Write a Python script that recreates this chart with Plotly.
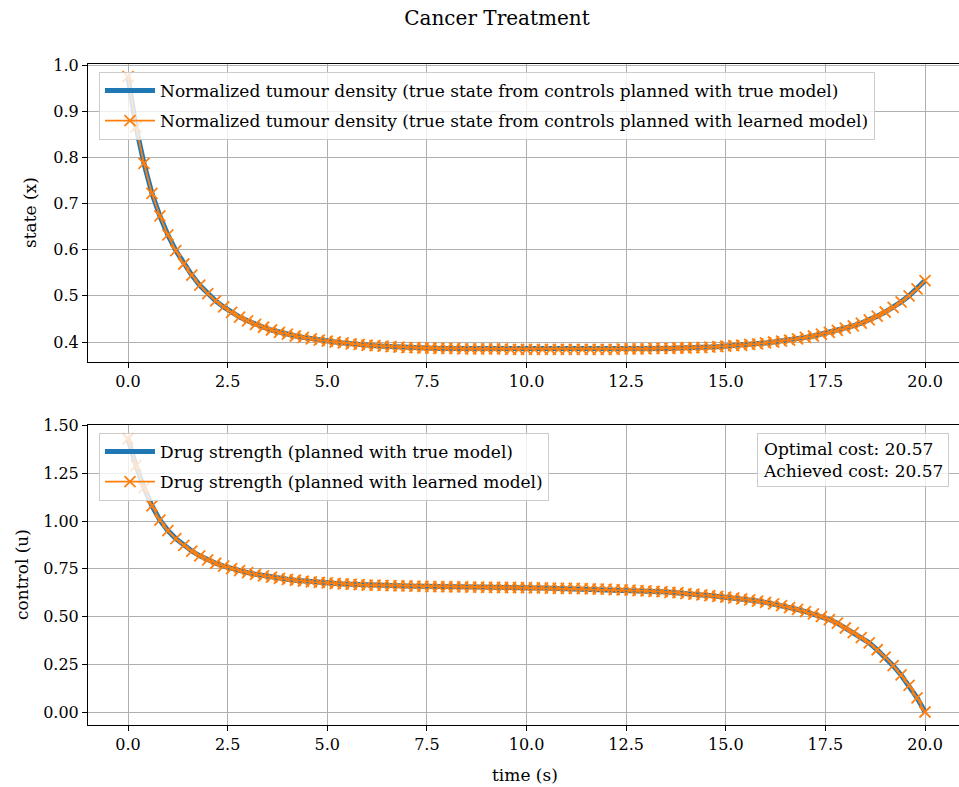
import plotly.graph_objects as go
from plotly.subplots import make_subplots

# time grid (s), sampled every 0.2 s
time_s = [round(i * 0.2, 1) for i in range(101)]

state_true = [
    0.975, 0.866, 0.787, 0.722, 0.673, 0.632, 0.598, 0.569, 0.545, 0.523,
    0.505, 0.489, 0.476, 0.464, 0.454, 0.446, 0.438, 0.432, 0.426, 0.421,
    0.417, 0.413, 0.410, 0.407, 0.404, 0.402, 0.400, 0.398, 0.396, 0.395,
    0.393, 0.392, 0.391, 0.390, 0.389, 0.388, 0.388, 0.387, 0.387, 0.386,
    0.386, 0.386, 0.385, 0.385, 0.385, 0.385, 0.385, 0.385, 0.384, 0.384,
    0.384, 0.384, 0.384, 0.384, 0.384, 0.384, 0.384, 0.384, 0.384, 0.384,
    0.384, 0.384, 0.385, 0.385, 0.385, 0.385, 0.386, 0.386, 0.386, 0.387,
    0.387, 0.388, 0.388, 0.389, 0.390, 0.391, 0.392, 0.393, 0.395, 0.396,
    0.398, 0.400, 0.402, 0.404, 0.407, 0.410, 0.413, 0.417, 0.421, 0.425,
    0.430, 0.435, 0.441, 0.448, 0.456, 0.465, 0.475, 0.487, 0.500, 0.515,
    0.533,
]
state_learned = [
    0.975, 0.866, 0.787, 0.722, 0.673, 0.632, 0.598, 0.569, 0.545, 0.523,
    0.505, 0.489, 0.476, 0.464, 0.454, 0.446, 0.438, 0.432, 0.426, 0.421,
    0.417, 0.413, 0.410, 0.407, 0.404, 0.402, 0.400, 0.398, 0.396, 0.395,
    0.393, 0.392, 0.391, 0.390, 0.389, 0.388, 0.388, 0.387, 0.387, 0.386,
    0.386, 0.386, 0.385, 0.385, 0.385, 0.385, 0.385, 0.385, 0.384, 0.384,
    0.384, 0.384, 0.384, 0.384, 0.384, 0.384, 0.384, 0.384, 0.384, 0.384,
    0.384, 0.384, 0.385, 0.385, 0.385, 0.385, 0.386, 0.386, 0.386, 0.387,
    0.387, 0.388, 0.388, 0.389, 0.390, 0.391, 0.392, 0.393, 0.395, 0.396,
    0.398, 0.400, 0.402, 0.404, 0.407, 0.410, 0.413, 0.417, 0.421, 0.425,
    0.430, 0.435, 0.441, 0.448, 0.456, 0.465, 0.475, 0.487, 0.500, 0.515,
    0.533,
]

control_true = [
    1.431, 1.290, 1.175, 1.080, 1.005, 0.950, 0.908, 0.873, 0.843, 0.818,
    0.797, 0.779, 0.764, 0.751, 0.740, 0.730, 0.721, 0.713, 0.706, 0.700,
    0.695, 0.690, 0.686, 0.682, 0.679, 0.676, 0.673, 0.671, 0.669, 0.667,
    0.665, 0.664, 0.663, 0.662, 0.661, 0.660, 0.659, 0.658, 0.657, 0.657,
    0.656, 0.655, 0.655, 0.654, 0.654, 0.653, 0.653, 0.652, 0.652, 0.651,
    0.651, 0.650, 0.650, 0.649, 0.648, 0.648, 0.647, 0.646, 0.645, 0.644,
    0.643, 0.641, 0.640, 0.638, 0.636, 0.634, 0.632, 0.630, 0.627, 0.625,
    0.620, 0.617, 0.613, 0.610, 0.606, 0.602, 0.598, 0.593, 0.587, 0.581,
    0.574, 0.566, 0.557, 0.547, 0.537, 0.526, 0.514, 0.500, 0.484, 0.465,
    0.440, 0.416, 0.390, 0.362, 0.326, 0.287, 0.243, 0.194, 0.139, 0.074,
    0.000,
]
control_learned = [
    1.431, 1.290, 1.175, 1.080, 1.005, 0.950, 0.908, 0.873, 0.843, 0.818,
    0.797, 0.779, 0.764, 0.751, 0.740, 0.730, 0.721, 0.713, 0.706, 0.700,
    0.695, 0.690, 0.686, 0.682, 0.679, 0.676, 0.673, 0.671, 0.669, 0.667,
    0.665, 0.664, 0.663, 0.662, 0.661, 0.660, 0.659, 0.658, 0.657, 0.657,
    0.656, 0.655, 0.655, 0.654, 0.654, 0.653, 0.653, 0.652, 0.652, 0.651,
    0.651, 0.650, 0.650, 0.649, 0.648, 0.648, 0.647, 0.646, 0.645, 0.644,
    0.643, 0.641, 0.640, 0.638, 0.636, 0.634, 0.632, 0.630, 0.627, 0.625,
    0.620, 0.617, 0.613, 0.610, 0.606, 0.602, 0.598, 0.593, 0.587, 0.581,
    0.574, 0.566, 0.557, 0.547, 0.537, 0.526, 0.514, 0.500, 0.484, 0.465,
    0.440, 0.416, 0.390, 0.362, 0.326, 0.287, 0.243, 0.194, 0.139, 0.074,
    0.000,
]

x_ticks = [0, 2.5, 5, 7.5, 10, 12.5, 15, 17.5, 20]
x_tick_text = ["0.0", "2.5", "5.0", "7.5", "10.0", "12.5", "15.0", "17.5", "20.0"]
state_ticks = [0.4, 0.5, 0.6, 0.7, 0.8, 0.9, 1.0]
state_tick_text = ["0.4", "0.5", "0.6", "0.7", "0.8", "0.9", "1.0"]
control_ticks = [0, 0.25, 0.5, 0.75, 1.0, 1.25, 1.5]
control_tick_text = ["0.00", "0.25", "0.50", "0.75", "1.00", "1.25", "1.50"]

optimal_cost = 20.57
achieved_cost = 20.57

BLUE = "#1f77b4"
ORANGE = "#ff7f0e"
FONT = "DejaVu Serif"
TXT = 17
TICK = 16

W, H = 959, 787
ML, MR, MT, MB = 88, 0, 64, 62
PW = W - ML - MR
PH = H - MT - MB

fig = make_subplots(rows=2, cols=1, shared_xaxes=False, vertical_spacing=0.0)

fig.add_trace(go.Scatter(
    x=time_s, y=state_true, mode="lines",
    line=dict(color=BLUE, width=5),
    name="Normalized tumour density (true state from controls planned with true model)",
    legend="legend", legendgroup="a"), row=1, col=1)
fig.add_trace(go.Scatter(
    x=time_s, y=state_learned, mode="lines+markers",
    line=dict(color=ORANGE, width=1.8),
    marker=dict(symbol="x-thin", size=11, line=dict(color=ORANGE, width=1.8)),
    name="Normalized tumour density (true state from controls planned with learned model)",
    legend="legend", legendgroup="b"), row=1, col=1)
fig.add_trace(go.Scatter(
    x=time_s, y=control_true, mode="lines",
    line=dict(color=BLUE, width=5),
    name="Drug strength (planned with true model)",
    legend="legend2", legendgroup="c"), row=2, col=1)
fig.add_trace(go.Scatter(
    x=time_s, y=control_learned, mode="lines+markers",
    line=dict(color=ORANGE, width=1.8),
    marker=dict(symbol="x-thin", size=11, line=dict(color=ORANGE, width=1.8)),
    name="Drug strength (planned with learned model)",
    legend="legend2", legendgroup="d"), row=2, col=1)

top_lo = (H - MB - 362) / PH
bot_hi = (H - MB - 425) / PH

xcommon = dict(
    range=[-1.004, 20.853], tickvals=x_ticks, ticktext=x_tick_text,
    showgrid=True, gridcolor="#b0b0b0", gridwidth=1,
    showline=True, linecolor="black", linewidth=1, mirror=True,
    ticks="outside", ticklen=5, tickcolor="black", tickwidth=1,
    zeroline=False, tickfont=dict(family=FONT, size=TICK, color="black"),
)
ycommon = dict(
    showgrid=True, gridcolor="#b0b0b0", gridwidth=1,
    showline=True, linecolor="black", linewidth=1, mirror=False,
    ticks="outside", ticklen=5, tickcolor="black", tickwidth=1,
    zeroline=False, tickfont=dict(family=FONT, size=TICK, color="black"),
)

fig.update_layout(
    xaxis=dict(**xcommon, domain=[0, 1], anchor="y"),
    xaxis2=dict(**xcommon, domain=[0, 1], anchor="y2"),
    yaxis=dict(**ycommon, domain=[top_lo, 1], range=[0.3567, 1.0022],
               tickvals=state_ticks, ticktext=state_tick_text, anchor="x"),
    yaxis2=dict(**ycommon, domain=[0, bot_hi], range=[-0.068, 1.503],
                tickvals=control_ticks, ticktext=control_tick_text, anchor="x2"),
)

legend_style = dict(
    bgcolor="rgba(255,255,255,0.8)", bordercolor="#cccccc", borderwidth=1,
    font=dict(family=FONT, size=TXT, color="black"),
    xanchor="left", yanchor="top", traceorder="grouped",
    tracegroupgap=5, itemwidth=50,
)
fig.update_layout(
    legend=dict(**legend_style, x=(99 - ML) / PW, y=1 - (72 - MT) / PH),
    legend2=dict(**legend_style, x=(99 - ML) / PW, y=1 - (433 - MT) / PH),
)

annotations = [
    dict(text="state (x)", textangle=-90, xref="paper", yref="paper",
         x=(30 - ML) / PW, y=1 - (213 - MT) / PH, showarrow=False,
         xanchor="center", yanchor="middle",
         font=dict(family=FONT, size=TXT, color="black")),
    dict(text="control (u)", textangle=-90, xref="paper", yref="paper",
         x=(22 - ML) / PW, y=1 - (575 - MT) / PH, showarrow=False,
         xanchor="center", yanchor="middle",
         font=dict(family=FONT, size=TXT, color="black")),
    dict(text="time (s)", xref="paper", yref="paper",
         x=(525 - ML) / PW, y=1 - (775 - MT) / PH, showarrow=False,
         xanchor="center", yanchor="middle",
         font=dict(family=FONT, size=TXT, color="black")),
    dict(text=f"Optimal cost: {optimal_cost:.2f}<br>Achieved cost: {achieved_cost:.2f}",
         xref="paper", yref="paper", align="left",
         x=(949 - ML) / PW, y=1 - (433 - MT) / PH, showarrow=False,
         xanchor="right", yanchor="top",
         bgcolor="rgba(255,255,255,0.8)", bordercolor="#cccccc", borderwidth=1,
         borderpad=5,
         font=dict(family=FONT, size=TXT, color="black")),
]

fig.update_layout(
    width=W, height=H,
    margin=dict(l=ML, r=MR, t=MT, b=MB),
    paper_bgcolor="white", plot_bgcolor="white",
    title=dict(text="Cancer Treatment", x=497 / W, y=1 - 18 / H,
               xanchor="center", yanchor="middle", xref="container", yref="container",
               font=dict(family=FONT, size=20, color="black")),
    annotations=annotations,
    font=dict(family=FONT),
)

fig.write_html("out.html")
